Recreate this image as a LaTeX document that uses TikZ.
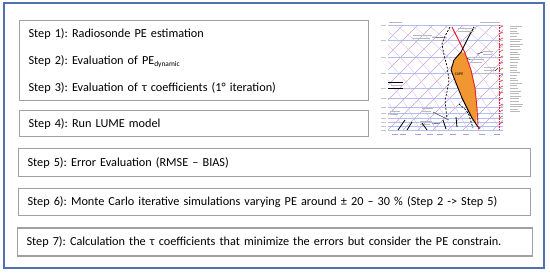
\documentclass[tikz,border=0pt]{standalone}
\usepackage{fontspec}
\setmainfont{Carlito}
\usetikzlibrary{positioning, calc}

\definecolor{frameblue}{RGB}{80,114,172}
\definecolor{boxgray}{RGB}{160,160,160}
\definecolor{isobarblue}{RGB}{175,192,236}
\definecolor{isothermviolet}{RGB}{196,160,226}
\definecolor{capeorange}{RGB}{240,150,50}
\definecolor{sondered}{RGB}{228,30,36}
\newcommand\stepfont{\fontsize{12.25}{15}\selectfont\frenchspacing}
\newcommand\subfont{\fontsize{7.4}{8}\selectfont}

\begin{document}
\begin{tikzpicture}[x=1pt, y=-1pt,
  every node/.style={font=\stepfont},
  stepbox/.style = {draw=boxgray, line width=1.1pt, anchor=north west, align=left,
                    inner xsep=9pt, inner ysep=0pt},
  outer/.style   = {draw=frameblue, line width=1.3pt},
  isobar/.style  = {isobarblue, line width=0.4pt},
  isotherm/.style= {isothermviolet, line width=0.4pt},
  adiabat/.style = {isothermviolet!70, line width=0.35pt},
  scrib/.style   = {gray!55, line width=0.5pt},
  leader/.style  = {black!80, line width=0.45pt},
  barb/.style    = {sondered, line width=0.6pt},
]
  \useasboundingbox (0,0) rectangle (550,274);
  \draw[outer] (4,3) rectangle (544,268);
  % Step boxes, top to bottom.
  \node[stepbox, text width=331pt, minimum height=80pt] (s123) at (19,20)
    {Step 1): Radiosonde PE estimation\\[12pt]
     Step 2): Evaluation of PE\raisebox{-2.5pt}{\subfont dynamic}\\[12pt]
     Step 3): Evaluation of τ coefficients (1° iteration)};
  \node[stepbox, text width=331pt, minimum height=26pt, below=9pt of s123.south west, anchor=north west] (s4)
    {Step 4): Run LUME model};
  \node[stepbox, text width=494pt, minimum height=28pt, below=11pt of s4.south west, anchor=north west, xshift=-1pt] (s5)
    {Step 5): Error Evaluation (RMSE – BIAS)};
  \node[stepbox, text width=494pt, minimum height=27pt, below=11pt of s5.south west, anchor=north west] (s6)
    {Step 6): Monte Carlo iterative simulations varying PE around ± 20 – 30 \% (Step 2 -> Step 5)};
  \node[stepbox, text width=497pt, minimum height=28pt, below=11pt of s6.south west, anchor=north west, xshift=-1pt] (s7)
    {Step 7): Calculation the τ coefficients that minimize the errors but consider the PE constrain.};
  % Sounding chart (skew-T) top right.
  \begin{scope}
    \clip (388,25) rectangle (503,130);
    \foreach \p in {25,40,57,73,88,98,107,113,118,122,126,130}
      \draw[isobar] (388,\p) -- (503,\p);
    \foreach \t in {-120,-105,...,120}
      \draw[isotherm] (388+\t,130) -- ++(105,-105);
    \foreach \t in {0,16,...,240}
      \draw[adiabat] (388+\t,130) .. controls (370+\t,95) and (345+\t,60) .. (300+\t,25);
  \end{scope}
  \fill[capeorange] (461,52) -- (454,60) -- (451,70) -- (456,83) -- (462,98) -- (468,110)
    -- (472,118) -- (476,124) -- (477,108) -- (475,88) -- (471,70) -- (465,53) -- cycle;
  \draw[sondered, line width=0.9pt] (452,27) -- (465,53) -- (471,70) -- (475,88) -- (477,108) -- (478,125);
  \draw[black, line width=0.9pt] (474,27) -- (467,40) -- (461,52) -- (454,60) -- (451,70) -- (456,83)
    -- (462,98) -- (468,110) -- (472,118) -- (476,124) -- (479,128);
  \fill[sondered] (479,128) circle (1.4);
  \draw[black, line width=0.7pt, dash pattern=on 2pt off 1.5pt] (450,27) -- (445,36) -- (442,44)
    -- (444,55) -- (447,66) -- (449,80) -- (447,92) -- (445,100) -- (446,110) -- (447,118);
  \draw[black, line width=0.7pt, dash pattern=on 2pt off 1.5pt] (459,104) -- (466,110) -- (469,115)
    -- (471,122) -- (473,128);
  \node[font=\fontsize{4}{4}\selectfont, inner sep=0pt] (capelbl) at (459,74) {CAPE};
  % illegible chart labels
  \foreach \x/\y/\w in {413/35/19, 413/38/17, 458/28/18, 458/31/16, 470/59/14, 470/62/12,
                        483/51/10, 483/54/9, 484/67/11, 484/70/12, 484/73/9, 391/85/11,
                        390/111/10, 390/114/8, 422/108/11, 422/111/9, 420/121/12, 420/124/10,
                        389/22/13, 480/22/20}
    \draw[scrib] (\x,\y) -- ++(\w,0);
  \draw[black, line width=0.8pt] (388,82) -- (403,82);
  \draw[black, line width=0.8pt] (388,88) -- (403,88);
  \foreach \a/\b/\c/\d in {467/58/470/60, 477/54/483/52, 495/71/498/68, 433/112/449/120,
                          432/124/440/123, 447/38/432/37}
    \draw[leader] (\a,\b) -- (\c,\d);
  \foreach \a/\b/\c/\d in {398/130/405/120, 407/130/412/122, 422/123/427/130,
                          443/120/446/129, 456/117/457/127}
    \draw[black, line width=0.8pt] (\a,\b) -- (\c,\d);
  % wind barbs, axis labels, station data column
  \draw[barb, densely dotted] (499,25) -- (499,130);
  \foreach \y in {28,34,...,128}
    \draw[barb] (499,\y) -- ++(4,-2);
  \foreach \p in {25,40,57,73,88,98,107,113,118,122,126,130}
    \draw[scrib, gray!45] (381,\p) -- (386,\p);
  \foreach \x in {395,403,418,430,440,453,466,482,497}
    \draw[isothermviolet!80!gray, line width=0.5pt] (\x-3,134) -- (\x+3,134);
  \pgfmathsetseed{7}
  \foreach \y in {26,28.6,...,112} {
    \pgfmathsetmacro\len{6+7*rnd}
    \draw[scrib, line width=0.7pt] (510,\y) -- ++(\len,0);
  }
\end{tikzpicture}
\end{document}
